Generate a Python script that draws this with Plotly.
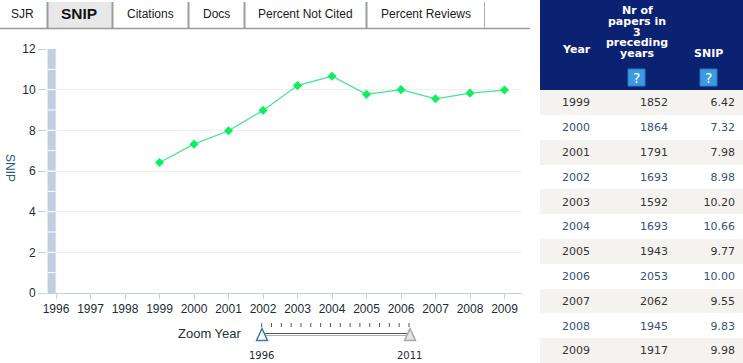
import plotly.graph_objects as go

W, H = 743, 363

years = [1999, 2000, 2001, 2002, 2003, 2004, 2005, 2006, 2007, 2008, 2009]
papers = [1852, 1864, 1791, 1693, 1592, 1693, 1943, 2053, 2062, 1945, 1917]
snip = [6.42, 7.32, 7.98, 8.98, 10.20, 10.66, 9.77, 10.00, 9.55, 9.83, 9.98]
snip_text = ["6.42", "7.32", "7.98", "8.98", "10.20", "10.66", "9.77", "10.00", "9.55", "9.83", "9.98"]
axis_years = list(range(1996, 2010))
tabs = ["SJR", "SNIP", "Citations", "Docs", "Percent Not Cited", "Percent Reviews"]
tab_centers = [22, 79, 150, 216, 305, 426]
tab_edges = [47.5, 112.5, 188.5, 244.5, 366.5]


def px(x):
    return x / W


def py(y):
    return 1 - y / H


shapes = []
ann = []


def rect(x0, y0, x1, y1, fill, line=None, layer="below"):
    shapes.append(dict(type="rect", xref="paper", yref="paper", x0=px(x0), x1=px(x1), y0=py(y0), y1=py(y1),
                       fillcolor=fill, line=dict(width=0 if line is None else 1, color=line or fill), layer=layer))


def seg(x0, y0, x1, y1, color, width=1, layer="above"):
    shapes.append(dict(type="line", xref="paper", yref="paper", x0=px(x0), x1=px(x1), y0=py(y0), y1=py(y1),
                       line=dict(color=color, width=width), layer=layer))


def text(x, y, s, size, color, family="Liberation Sans", xanchor="center", angle=0):
    ann.append(dict(xref="paper", yref="paper", x=px(x), y=py(y), text=s, showarrow=False, xanchor=xanchor,
                    yanchor="middle", textangle=angle, font=dict(size=size, color=color, family=family),
                    borderpad=0, borderwidth=0))


# tabs
rect(48, 2, 112, 28, "#e8e8e8")
seg(0, 28.5, 530, 28.5, "#9a9a9a", 1.5)
for e in tab_edges:
    seg(e, 2, e, 28, "#9c9c9c", 2)
seg(484.5, 2, 484.5, 28, "#b0b0b0", 1)
for t, c in zip(tabs, tab_centers):
    if t == "SNIP":
        text(c, 14, "<b>" + t + "</b>", 15.5, "#111111")
    else:
        text(c, 14, t, 12, "#1a1a1a")

# band at left of the plot
shapes.append(dict(type="rect", xref="x", yref="y", x0=1995.755, x1=1995.99, y0=0, y1=12,
                   fillcolor="#bdcfe0", line=dict(width=0), layer="below"))
for v in range(1, 12):
    shapes.append(dict(type="line", xref="x", yref="y", x0=1995.755, x1=1995.99, y0=v, y1=v,
                       line=dict(color="#ffffff", width=1), layer="above"))

# y title
text(10, 168, "SNIP", 12, "#2d5a78", angle=90)

# table header
rect(540, 0, 743, 90, "#0b2272")
for line_y, s in zip([11, 22, 32, 43, 54], ["Nr of", "papers in", "3", "preceding", "years"]):
    text(637, line_y, "<b>" + s + "</b>", 11, "#ffffff", "DejaVu Sans")
text(576, 49, "<b>Year</b>", 11, "#ffffff", "DejaVu Sans")
text(708, 54, "<b>SNIP</b>", 11, "#ffffff", "DejaVu Sans")
for x in (628, 700):
    rect(x, 69, x + 17, 86, "#3b9ae0", "#2a78c0", layer="above")
    text(x + 8.5, 77.5, "?", 14, "#ffffff", "DejaVu Sans")

# zoom slider
text(210.5, 333, "Zoom Year", 13, "#1c3038")
for i in range(16):
    x = 261.7 + i * (409 - 261.7) / 15
    seg(x, 323, x, 327, "#555555", 1)
seg(262, 333.5, 410, 333.5, "#555555", 1)
seg(262, 335.5, 410, 335.5, "#b0b0b0", 1)
shapes.append(dict(type="path", xref="paper", yref="paper",
                   path=f"M {px(256.5)} {py(340.5)} L {px(262)} {py(328.5)} L {px(267.5)} {py(340.5)} Z",
                   fillcolor="#ffffff", line=dict(color="#3c78b0", width=1.5), layer="above"))
shapes.append(dict(type="path", xref="paper", yref="paper",
                   path=f"M {px(404.5)} {py(340.5)} L {px(410)} {py(328.5)} L {px(415.5)} {py(340.5)} Z",
                   fillcolor="#e4e4e4", line=dict(color="#a8a8a8", width=1.5), layer="above"))
text(261.5, 355, "1996", 10, "#1c2c34", "DejaVu Sans")
text(409, 355, "2011", 10, "#1c2c34", "DejaVu Sans")

row_fill = ["#f5f3ef" if i % 2 == 0 else "#ffffff" for i in range(len(years))]
row_font = ["#333333" if i % 2 == 0 else "#34527a" for i in range(len(years))]

fig = go.Figure()
fig.add_trace(go.Scatter(x=years, y=snip, mode="lines+markers", cliponaxis=False,
                         line=dict(color="#3ce890", width=1.2),
                         marker=dict(symbol="diamond", size=7, color="#0cf060"),
                         showlegend=False, hoverinfo="skip"))
fig.add_trace(go.Table(
    domain=dict(x=[540 / W, 1], y=[0, 1 - 90 / H]),
    columnwidth=[72, 64, 67],
    header=dict(values=["", "", ""], height=0.1, fill_color="rgba(0,0,0,0)", line_width=0),
    cells=dict(values=[years, papers, snip_text], height=24.8,
               fill_color=[row_fill] * 3, line_width=0,
               align=["center", "right", "right"],
               font=dict(family="DejaVu Sans", size=11, color=[row_font] * 3))))

fig.update_layout(
    width=W, height=H, autosize=False, margin=dict(l=0, r=0, t=0, b=0, autoexpand=False),
    paper_bgcolor="#ffffff", plot_bgcolor="#ffffff", showlegend=False,
    shapes=shapes, annotations=ann,
    xaxis=dict(domain=[47 / W, 522 / W], range=[1995.739, 2009.507], tickmode="array", tickvals=axis_years,
               ticks="outside", ticklen=5, tickcolor="#c0d0e0", showgrid=False, zeroline=False, automargin=False,
               showline=True, linecolor="#c0d0e0", linewidth=1, anchor="y",
               tickfont=dict(family="Liberation Sans", size=12, color="#1c2c34")),
    yaxis=dict(domain=[1 - 293 / H, 1 - 49 / H], range=[0, 12], tickmode="array", tickvals=[0, 2, 4, 6, 8, 10, 12],
               ticks="outside", ticklen=8, tickcolor="#c0d0e0", showgrid=True, gridcolor="#efefef", gridwidth=1,
               zeroline=False, showline=False, anchor="x", automargin=False,
               tickfont=dict(family="Liberation Sans", size=12, color="#1c2c34")),
)

fig.write_html("out.html", config={"displayModeBar": False},
               post_script="document.body.style.margin='0';document.documentElement.style.overflow='hidden';window.scrollTo(0,0);")
